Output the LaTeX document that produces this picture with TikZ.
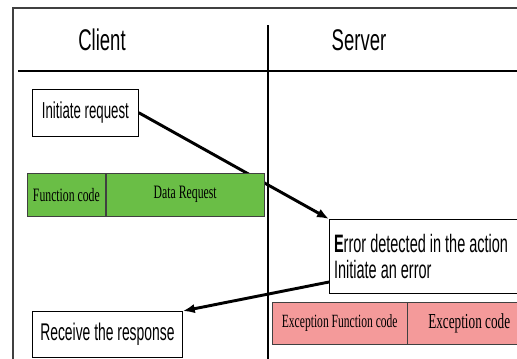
\documentclass[tikz,border=0pt]{standalone}
\usepackage{fontspec}
\setmainfont{Liberation Serif}
\newfontfamily\titlesans[FakeStretch=0.62]{Liberation Sans}
\newfontfamily\narrowsans[FakeStretch=0.575]{Liberation Sans}
\newfontfamily\narrowserif[FakeStretch=0.62]{Liberation Serif}
\usetikzlibrary{positioning,arrows.meta,backgrounds}
\definecolor{fieldgreen}{RGB}{106,190,70}
\definecolor{fieldpink}{RGB}{244,154,154}
\begin{document}
\begin{tikzpicture}[x=0.75pt,y=-0.75pt,
  title/.style={font=\titlesans\fontsize{22.4}{26}\selectfont},
  stepbox/.style={draw, line width=0.6pt, fill=white, inner sep=0pt, font=\narrowsans\fontsize{17.3}{20}\selectfont},
  greenfield/.style={draw=black!75, line width=0.6pt, fill=fieldgreen, inner sep=0pt, minimum height=32pt, font=\narrowserif\fontsize{14.2}{17}\selectfont},
  pinkfield/.style={draw=black!75, line width=0.6pt, fill=fieldpink, inner sep=0pt, minimum height=31.5pt, font=\narrowserif\fontsize{14}{17}\selectfont},
  flow/.style={-{Latex[length=9pt,width=7pt]}, line width=2.2pt}]
\useasboundingbox (0,0) rectangle (517,358);
\clip (0,0) rectangle (517,358);
\draw[line width=0.8pt, black!75] (13,370) -- (13,8) -- (530,8);
\draw[line width=2.2pt] (18,71) -- (530,71);
\draw[line width=1pt] (268,25) -- (268,370);
\node[title] (client) at (102,40) {Client};
\node[title] (server) at (359,40) {Server};
\node[stepbox, anchor=north west, minimum width=79.5pt, minimum height=35pt] (init) at (32,89) {Initiate request};
\node[greenfield, anchor=north west, minimum width=58.5pt] (fcode) at (27,173) {Function code};
\node[greenfield, right=0pt of fcode, minimum width=118.5pt] (dreq) {Data Request};
\node[stepbox, anchor=north west, minimum width=151pt, minimum height=55.5pt, inner xsep=3.5pt, text width=144pt, align=flush left, font=\narrowsans\fontsize{18.9}{19.5}\selectfont] (err) at (329,219) {\textbf{E}rror detected in the action\\Initiate an error};
\node[pinkfield, anchor=north west, minimum width=101pt] (exfc) at (272,302) {Exception Function code};
\node[pinkfield, right=0pt of exfc, minimum width=92pt, font=\narrowserif\fontsize{16}{19}\selectfont] (exc) {Exception code};
\node[stepbox, anchor=north west, minimum width=112.5pt, minimum height=34.5pt, font=\narrowsans\fontsize{18.1}{20}\selectfont] (recv) at (32,311) {Receive the response};
\coordinate (errout) at (329,282);
\begin{pgfonlayer}{background}
\draw[flow] (init.east) -- (err.north west);
\draw[flow] (errout) -- (recv.north east);
\end{pgfonlayer}
\end{tikzpicture}
\end{document}
